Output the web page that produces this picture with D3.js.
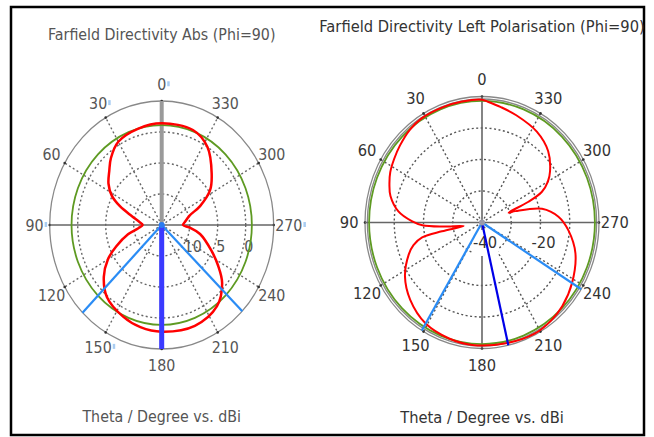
<!DOCTYPE html>
<html>
<head>
<meta charset="utf-8">
<script src="https://cdn.jsdelivr.net/npm/d3@7"></script>
<style>
  body { margin: 0; background: #fff; }
  svg { display: block; }
</style>
</head>
<body>
<svg id="chart" width="654" height="437"></svg>
<script>
// angle ticks shared by both plots
const angleTicks = [0, 30, 60, 90, 120, 150, 180, 210, 240, 270, 300, 330];

// left plot: Farfield Directivity Abs (Phi=90)
const absTitle = "Farfield Directivity Abs (Phi=90)";
const absRings = [-10, -5, 0];
const absRingLabels = ["10", "5", "0"];
const absTheta = [0, 15, 30, 40, 47, 55, 62, 68, 75, 83, 90, 97, 104, 113, 120, 129, 140, 155, 167, 180,
  200, 217, 229, 237, 245, 258, 265, 270, 277, 287, 294, 303, 313, 327, 340];
const absDb = [1.4, 1.1, 0.5, -0.9, -2.2, -3.4, -4.9, -7, -9.5, -11, -11.6, -10.8, -8.8, -6.2, -3.9, -1.7, 0.2, 1.3, 1.9, 2.2,
  2.3, 1.4, -0.7, -3, -5.2, -8, -10, -11.2, -10.8, -9.8, -7.5, -4.7, -2.8, 0, 1.3];
const absMaxDb = 1.1;
const absBeamAngles = [135, 226];
const absMainAngle = 180;
const absMarkedTicks = [0, 30, 90, 150, 270];

// right plot: Farfield Directivity Left Polarisation (Phi=90)
const lpTitle = "Farfield Directivity Left Polarisation (Phi=90)";
const lpRings = [-30, -20, -10];
const lpRingLabelValues = [-40, -20];
const lpRingLabels = ["-40", "-20"];
const lpTheta = [0, 10, 20, 32, 40, 49, 56, 63, 69, 75, 83, 89, 92.5, 95.5, 100, 101.5, 103, 107, 112, 123,
  135, 149, 163, 175, 192, 207, 217, 226, 238, 253, 265, 274, 282, 287.5, 289, 292.5, 295.5, 300, 305, 315,
  327, 341, 350, 357];
const lpDb = [-1.0, -1.0, -1.0, -1.0, -1.6, -2.8, -3.8, -4.8, -6.1, -7.6, -11.2, -16, -19.6, -26.4, -33.6, -26, -19, -15.5, -13, -8.6,
  -5.3, -2.6, -1.5, -1.0, -0.8, -0.4, -0.9, -1.8, -3.7, -6.6, -10.3, -13.8, -19, -28, -30.4, -22.8, -17.3, -14, -11.6, -8,
  -5.6, -4, -2.8, -1.6];
const lpMaxDb = -1.4;
const lpBeamAngles = [149, 238];
const lpMainAngle = 193;

const xLabel = "Theta / Degree vs. dBi";

const svg = d3.select("#chart");

svg.append("rect")
  .attr("x", 11).attr("y", 7)
  .attr("width", 633).attr("height", 428)
  .attr("fill", "#fff")
  .attr("stroke", "#000")
  .attr("stroke-width", 2.5);

function addText(g, x, y, str, opts) {
  const t = g.append("text")
    .attr("transform", `translate(${x},${y}) scale(${opts.sx},1)`)
    .attr("text-anchor", opts.anchor || "middle")
    .attr("dominant-baseline", opts.baseline || "auto")
    .attr("font-family", "DejaVu Sans, sans-serif")
    .attr("font-size", opts.size)
    .attr("fill", opts.color)
    .text(str);
  return t;
}

function drawPolar(c) {
  const g = svg.append("g");
  const rScale = d3.scaleLinear().domain(c.domain).range([0, 1]);
  const pt = (theta, r) => {
    const a = theta * Math.PI / 180;
    return [c.cx - r * c.rx * Math.sin(a), c.cy - r * c.ry * Math.cos(a)];
  };

  // title + axis caption
  addText(g, c.cx, c.titleY, c.title, { sx: c.sx, size: 15, color: c.textColor });
  addText(g, c.cx, c.captionY, xLabel, { sx: c.sx, size: 15, color: c.textColor });

  // dotted rings
  g.selectAll(".ring")
    .data(c.rings)
    .enter().append("ellipse")
    .attr("cx", c.cx).attr("cy", c.cy)
    .attr("rx", d => rScale(d) * c.rx)
    .attr("ry", d => rScale(d) * c.ry)
    .attr("fill", "none")
    .attr("stroke", c.gridColor)
    .attr("stroke-width", 1.4)
    .attr("stroke-dasharray", "2,2.5");

  // dotted spokes
  g.selectAll(".spoke")
    .data(angleTicks.filter(d => d % 90 !== 0))
    .enter().append("line")
    .attr("x1", c.cx).attr("y1", c.cy)
    .attr("x2", d => pt(d, 1)[0])
    .attr("y2", d => pt(d, 1)[1])
    .attr("stroke", c.gridColor)
    .attr("stroke-width", 1.4)
    .attr("stroke-dasharray", "2,2.5");

  // outer circle(s)
  c.outer.forEach(r => {
    g.append("ellipse")
      .attr("cx", c.cx).attr("cy", c.cy)
      .attr("rx", r * c.rx).attr("ry", r * c.ry)
      .attr("fill", "none")
      .attr("stroke", "#888")
      .attr("stroke-width", 1.3);
  });

  // tick dots on outer circle
  g.selectAll(".tickdot")
    .data(angleTicks)
    .enter().append("circle")
    .attr("cx", d => pt(d, 1)[0])
    .attr("cy", d => pt(d, 1)[1])
    .attr("r", 1.3)
    .attr("fill", "#333");

  // axes
  g.append("line")
    .attr("x1", c.cx - c.rx).attr("x2", c.cx + c.rx)
    .attr("y1", c.cy).attr("y2", c.cy)
    .attr("stroke", "#666").attr("stroke-width", 1.6);
  g.append("line")
    .attr("x1", c.cx).attr("x2", c.cx)
    .attr("y1", c.cy - c.ry).attr("y2", c.cy + c.ry)
    .attr("stroke", c.vAxisColor).attr("stroke-width", c.vAxisWidth);

  // angle labels
  angleTicks.forEach(d => {
    const p = pt(d, c.labelR);
    const t = addText(g, p[0], p[1], String(d), { sx: c.sx, size: 15, color: c.textColor, baseline: "central" });
    if (c.marked && c.marked.includes(d)) {
      const w = t.node().getComputedTextLength() * c.sx;
      g.append("rect")
        .attr("x", p[0] + w / 2 + 1).attr("y", p[1] - 3)
        .attr("width", 2.5).attr("height", 5)
        .attr("fill", "#a9cdf2");
    }
  });

  // ring labels
  c.ringLabelValues.forEach((v, i) => {
    const x = c.cx + rScale(v) * c.rx + 3;
    if (c.labelBg) {
      g.append("rect")
        .attr("x", x - 13).attr("y", c.ringLabelY - 13)
        .attr("width", 26).attr("height", 26)
        .attr("fill", "#fff");
    }
    addText(g, x, c.ringLabelY, c.ringLabels[i], { sx: c.sx, size: 15, color: c.textColor, baseline: "central" });
  });

  // max directivity circle
  g.append("ellipse")
    .attr("cx", c.cx).attr("cy", c.cy)
    .attr("rx", rScale(c.maxDb) * c.rx)
    .attr("ry", rScale(c.maxDb) * c.ry)
    .attr("fill", "none")
    .attr("stroke", "#5e9a22")
    .attr("stroke-width", 1.8);

  // pattern curve
  const pts = c.theta.map((t, i) => pt(t, rScale(c.db[i])));
  const line = d3.line().curve(d3.curveCatmullRomClosed.alpha(0.5));
  g.append("path")
    .datum(pts)
    .attr("d", line)
    .attr("fill", "none")
    .attr("stroke", "#ff0000")
    .attr("stroke-width", c.redWidth)
    .attr("stroke-linejoin", "round");

  // beamwidth lines
  c.beams.forEach(a => {
    const p = pt(a, 1);
    g.append("line")
      .attr("x1", c.cx).attr("y1", c.cy)
      .attr("x2", p[0]).attr("y2", p[1])
      .attr("stroke", "#2a8cf5")
      .attr("stroke-width", 2.2);
  });

  // main lobe direction
  const m = pt(c.main, 1);
  g.append("line")
    .attr("x1", c.cx).attr("y1", c.cy)
    .attr("x2", m[0]).attr("y2", m[1])
    .attr("stroke", c.mainColor)
    .attr("stroke-width", c.mainWidth);

  g.append("circle")
    .attr("cx", c.cx).attr("cy", c.cy)
    .attr("r", 3)
    .attr("fill", c.centerColor);
}

drawPolar({
  cx: 161.7, cy: 225, rx: 112, ry: 124,
  domain: [-15, 5],
  rings: absRings,
  ringLabelValues: absRings, ringLabels: absRingLabels, ringLabelY: 246, labelBg: false,
  title: absTitle, titleY: 40, captionY: 422,
  theta: absTheta, db: absDb, maxDb: absMaxDb,
  beams: absBeamAngles, main: absMainAngle,
  mainColor: "#3a3aff", mainWidth: 5, centerColor: "#2a7cf0",
  vAxisColor: "#9a9a9a", vAxisWidth: 4,
  outer: [1], labelR: 1.135, marked: absMarkedTicks,
  gridColor: "#666", textColor: "#555", sx: 0.95, redWidth: 2.5
});

drawPolar({
  cx: 482, cy: 222.5, rx: 117, ry: 126,
  domain: [-40, 0],
  rings: lpRings,
  ringLabelValues: lpRingLabelValues, ringLabels: lpRingLabels, ringLabelY: 243, labelBg: true,
  title: lpTitle, titleY: 32, captionY: 423,
  theta: lpTheta, db: lpDb, maxDb: lpMaxDb,
  beams: lpBeamAngles, main: lpMainAngle,
  mainColor: "#0000e8", mainWidth: 2.2, centerColor: "#9a9aa8",
  vAxisColor: "#666", vAxisWidth: 1.6,
  outer: [1, 0.98], labelR: 1.135, marked: null,
  gridColor: "#555", textColor: "#333", sx: 0.98, redWidth: 2
});
</script>
</body>
</html>
